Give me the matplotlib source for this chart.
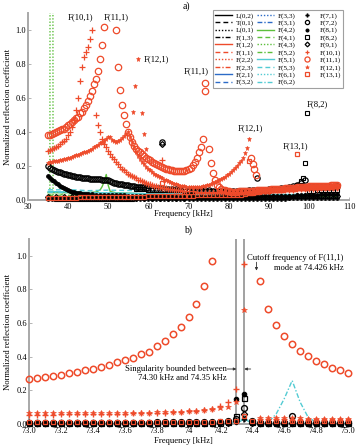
import numpy as np
import matplotlib
matplotlib.use("Agg")
import matplotlib.pyplot as plt

plt.rcParams['font.family'] = ['Liberation Serif', 'DejaVu Serif']

RED = '#ee4b2b'; BLUE = '#2c6bc7'; GREEN = '#5cbf3c'; CYAN = '#52cbd3'
BLK = '#000000'; GRAY = '#a8a8a8'

# ====================== panel a) data ======================
# sampled frequency grids (kHz)
a_x_line = [35.0, 53.0, 71.0, 89.0, 107.0]
a_x_1k = np.arange(35.0, 107.01, 1.0)

# near-zero modes (lines)
a_L02 = [0.004, 0.003, 0.003, 0.004, 0.005]
a_T01 = [0.003, 0.003, 0.002, 0.003, 0.004]
a_L01 = [0.002, 0.002, 0.002, 0.003, 0.003]
a_F13 = [0.004, 0.004, 0.004, 0.005, 0.005]
a_F12 = [0.008, 0.007, 0.007, 0.008, 0.009]
a_F11 = [0.006, 0.006, 0.006, 0.007, 0.007]
a_F22 = [0.005, 0.005, 0.005, 0.006, 0.006]
a_F23 = [0.007, 0.006, 0.006, 0.007, 0.008]
a_F21 = [0.003, 0.003, 0.003, 0.003, 0.004]
a_F32 = [0.002, 0.002, 0.002, 0.003, 0.003]
a_F33 = [0.003, 0.003, 0.003, 0.003, 0.003]
a_F31 = [0.002, 0.002, 0.002, 0.002, 0.003]
a_F42_x = [35, 40, 45, 47, 48, 48.5, 49, 49.5, 50, 50.5, 52, 55, 60, 70, 80, 90, 100, 107]
a_F42 = [0.043, 0.043, 0.044, 0.047, 0.06, 0.08, 0.11, 0.15, 0.085, 0.05, 0.042, 0.04,
         0.035, 0.03, 0.028, 0.027, 0.027, 0.028]
a_F41 = [0.02, 0.018, 0.016, 0.016, 0.018]
a_F43_x = [35.0, 35.45, 35.5, 36.2, 36.25, 40.0, 70.0, 107.0]
a_F43 = [0.0, 0.0, 1.5, 1.5, 0.0, 0.0, 0.0, 0.0]
a_F52_x = [35.0, 38.0, 38.6, 39.2, 45.0, 60.0, 80.0, 107.0]
a_F52 = [0.028, 0.028, 0.034, 0.028, 0.026, 0.022, 0.02, 0.02]
a_F51 = [0.05, 0.04, 0.032, 0.03, 0.03]
a_F53_x = [35.0, 41.0, 45.0, 50.0, 57.0, 65.0, 80.0, 107.0]
a_F53 = [0.06, 0.06, 0.055, 0.058, 0.055, 0.04, 0.035, 0.03]
a_F61 = [0.012, 0.011, 0.011, 0.012, 0.013]
a_F62 = [0.045, 0.04, 0.035, 0.033, 0.032]

# F(7,1) black plus, 1 kHz grid
a_F71 = [0.005, 0.005, 0.005, 0.005, 0.005, 0.005, 0.005, 0.005, 0.005, 0.005,
         0.005, 0.005, 0.005, 0.005, 0.005, 0.006, 0.006, 0.006, 0.006, 0.006,
         0.006, 0.006, 0.006, 0.006, 0.006, 0.006, 0.006, 0.006, 0.006, 0.006,
         0.006, 0.006, 0.006, 0.006, 0.006, 0.007, 0.007, 0.007, 0.007, 0.007,
         0.007, 0.007, 0.007, 0.007, 0.007, 0.007, 0.007, 0.007, 0.007, 0.007,
         0.008, 0.008, 0.008, 0.008, 0.008, 0.008, 0.008, 0.008, 0.008, 0.008,
         0.009, 0.009, 0.009, 0.009, 0.009, 0.009, 0.009, 0.009, 0.009, 0.009,
         0.010, 0.010, 0.010]

# F(7,2) black circles
a_F72_x1 = np.arange(35.0, 60.01, 0.5)
a_F72_y1 = [0.200, 0.190, 0.183, 0.177, 0.172, 0.167, 0.163, 0.159, 0.155, 0.151,
            0.148, 0.145, 0.142, 0.139, 0.137, 0.135, 0.133, 0.131, 0.129, 0.128,
            0.127, 0.126, 0.125, 0.124, 0.123, 0.122, 0.121, 0.120, 0.120, 0.119,
            0.118, 0.112, 0.106, 0.102, 0.099, 0.096, 0.094, 0.092, 0.090, 0.088,
            0.086, 0.084, 0.082, 0.080, 0.079, 0.078, 0.076, 0.075, 0.074, 0.073,
            0.072]
a_F72_x2 = np.arange(61.0, 107.01, 1.0)
a_F72_y2 = [0.070, 0.069, 0.068, 0.067, 0.066, 0.065, 0.064, 0.063, 0.062, 0.061,
            0.060, 0.059, 0.058, 0.057, 0.056, 0.055, 0.054, 0.054, 0.053, 0.053,
            0.053, 0.054, 0.054, 0.055, 0.056, 0.057, 0.058, 0.059, 0.060, 0.062,
            0.064, 0.066, 0.068, 0.071, 0.075, 0.082, 0.090, 0.100, 0.120, 0.075,
            0.074, 0.075, 0.076, 0.077, 0.078, 0.079, 0.080]
a_F72_x3 = [63.3, 87.0]
a_F72_y3 = [0.34, 0.128]

# F(8,1) black dots
a_F81_x1 = np.arange(35.0, 45.01, 0.5)
a_F81_y1 = [0.140, 0.130, 0.120, 0.110, 0.100, 0.092, 0.085, 0.078, 0.072, 0.066,
            0.060, 0.055, 0.050, 0.047, 0.044, 0.042, 0.040, 0.038, 0.036, 0.035,
            0.034]
a_F81_x2 = np.arange(46.0, 107.01, 1.0)
a_F81_y2 = [0.033, 0.032, 0.031, 0.030, 0.029, 0.028, 0.028, 0.027, 0.027, 0.026,
            0.026, 0.025, 0.025, 0.024, 0.024, 0.023, 0.023, 0.022, 0.022, 0.021,
            0.021, 0.020, 0.020, 0.020, 0.019, 0.019, 0.019, 0.018, 0.018, 0.018,
            0.018, 0.018, 0.018, 0.018, 0.018, 0.018, 0.019, 0.019, 0.019, 0.020,
            0.020, 0.020, 0.021, 0.021, 0.022, 0.022, 0.023, 0.023, 0.024, 0.025,
            0.026, 0.027, 0.028, 0.030, 0.030, 0.031, 0.032, 0.033, 0.034, 0.035,
            0.036, 0.037]

# F(8,2) black squares
a_F82_x1 = np.arange(35.0, 56.01, 1.0)
a_F82_y1 = [0.009, 0.009, 0.008, 0.008, 0.008, 0.008, 0.007, 0.007, 0.007, 0.007,
            0.007, 0.007, 0.007, 0.007, 0.007, 0.007, 0.007, 0.007, 0.007, 0.007,
            0.007, 0.007]
a_F82_x2 = np.arange(57.0, 98.01, 1.0)
a_F82_y2 = [0.065, 0.063, 0.062, 0.061, 0.060, 0.059, 0.058, 0.058, 0.057, 0.057,
            0.056, 0.056, 0.055, 0.055, 0.055, 0.054, 0.054, 0.054, 0.054, 0.054,
            0.054, 0.054, 0.054, 0.055, 0.055, 0.055, 0.056, 0.056, 0.057, 0.057,
            0.058, 0.059, 0.060, 0.061, 0.062, 0.064, 0.066, 0.069, 0.073, 0.078,
            0.090, 0.110]
a_F82_x3 = [98.5, 99.1, 99.5, 100, 101, 102, 103, 104, 105, 106, 107]
a_F82_y3 = [0.13, 0.22, 0.51, 0.055, 0.055, 0.056, 0.056, 0.057, 0.057, 0.058, 0.058]

# F(9,1) black diamonds
a_F91_x = np.arange(35.0, 107.01, 2.0)
a_F91_y = [0.016, 0.016, 0.015, 0.015, 0.015, 0.015, 0.015, 0.015, 0.014, 0.014,
           0.014, 0.014, 0.014, 0.014, 0.014, 0.014, 0.014, 0.014, 0.015, 0.015,
           0.015, 0.015, 0.016, 0.016, 0.017, 0.017, 0.018, 0.018, 0.019, 0.020,
           0.020, 0.021, 0.022, 0.023, 0.024, 0.025, 0.026]
a_F91_xi = [63.4]
a_F91_yi = [0.33]

# F(10,1) red plus
a_F101_x1 = np.arange(35.0, 46.01, 0.5)
a_F101_y1 = [0.29, 0.295, 0.30, 0.305, 0.31, 0.32, 0.33, 0.34, 0.35, 0.36,
             0.38, 0.40, 0.43, 0.47, 0.53, 0.60, 0.70, 0.78, 0.84, 0.87,
             0.90, 0.95, 1.00]
a_F101_x2 = np.arange(47.0, 70.01, 0.5)
a_F101_y2 = [0.50, 0.44, 0.40, 0.36, 0.33, 0.31, 0.29, 0.27, 0.255, 0.24,
             0.225, 0.21, 0.195, 0.185, 0.175, 0.165, 0.155, 0.147, 0.14, 0.133,
             0.127, 0.12, 0.115, 0.11, 0.105, 0.10, 0.096, 0.092, 0.088, 0.085,
             0.082, 0.079, 0.076, 0.073, 0.07, 0.068, 0.066, 0.064, 0.062, 0.06,
             0.058, 0.057, 0.056, 0.055, 0.054, 0.053, 0.052]
a_F101_x3 = np.arange(71.0, 107.01, 1.0)
a_F101_y3 = [0.051, 0.05, 0.05, 0.049, 0.049, 0.048, 0.048, 0.048, 0.048, 0.048,
             0.048, 0.049, 0.049, 0.05, 0.05, 0.051, 0.052, 0.053, 0.054, 0.055,
             0.056, 0.057, 0.058, 0.059, 0.06, 0.061, 0.062, 0.063, 0.064, 0.065,
             0.066, 0.067, 0.068, 0.069, 0.07, 0.07, 0.071]
a_F101_xi = [63.3]
a_F101_yi = [0.235]

# F(11,1) red circles
a_F111_x1 = np.arange(35.0, 49.01, 0.5)
a_F111_y1 = [0.38, 0.385, 0.39, 0.395, 0.40, 0.405, 0.41, 0.415, 0.42, 0.43,
             0.44, 0.45, 0.46, 0.47, 0.48, 0.49, 0.51, 0.52, 0.54, 0.56,
             0.58, 0.61, 0.64, 0.68, 0.71, 0.76, 0.83, 0.91, 1.02]
a_F111_x2 = np.arange(52.0, 74.01, 0.5)
a_F111_y2 = [1.00, 0.78, 0.65, 0.56, 0.50, 0.45, 0.40, 0.37, 0.34, 0.32,
             0.30, 0.29, 0.28, 0.27, 0.26, 0.25, 0.24, 0.235, 0.225, 0.22,
             0.21, 0.205, 0.20, 0.195, 0.19, 0.185, 0.18, 0.178, 0.175, 0.172,
             0.17, 0.17, 0.17, 0.17, 0.172, 0.175, 0.18, 0.19, 0.205, 0.225,
             0.25, 0.28, 0.31, 0.36, 0.64]
a_F111_x3 = np.arange(75.0, 107.01, 0.5)
a_F111_y3 = [0.30, 0.22, 0.16, 0.12, 0.09, 0.075, 0.066, 0.06, 0.056, 0.053,
             0.051, 0.05, 0.05, 0.05, 0.05, 0.051, 0.051, 0.052, 0.052, 0.053,
             0.053, 0.054, 0.055, 0.055, 0.056, 0.057, 0.058, 0.058, 0.059, 0.06,
             0.061, 0.062, 0.063, 0.063, 0.064, 0.065, 0.066, 0.067, 0.068, 0.069,
             0.07, 0.071, 0.072, 0.073, 0.074, 0.075, 0.076, 0.077, 0.078, 0.079,
             0.08, 0.081, 0.082, 0.082, 0.083, 0.083, 0.084, 0.084, 0.085, 0.085,
             0.085, 0.086, 0.086, 0.086, 0.086]
a_F111_xi = [74.2, 85.6, 86.0, 86.4, 86.8]
a_F111_yi = [0.69, 0.25, 0.21, 0.18, 0.15]

# F(12,1) red asterisks
a_F121_x1 = np.arange(35.0, 85.01, 0.5)
a_F121_y1 = [0.22, 0.222, 0.225, 0.227, 0.23, 0.232, 0.235, 0.238, 0.24, 0.243,
             0.246, 0.25, 0.254, 0.258, 0.262, 0.266, 0.27, 0.275, 0.28, 0.285,
             0.29, 0.296, 0.302, 0.31, 0.317, 0.325, 0.333, 0.342, 0.35, 0.36,
             0.368, 0.37, 0.355, 0.345, 0.342, 0.345, 0.352, 0.362, 0.375, 0.39,
             0.40, 0.37, 0.34, 0.31, 0.285, 0.26, 0.24, 0.225, 0.21, 0.197,
             0.185, 0.175, 0.165, 0.155, 0.147, 0.14, 0.133, 0.127, 0.12, 0.115,
             0.11, 0.105, 0.10, 0.096, 0.092, 0.088, 0.085, 0.082, 0.08, 0.078,
             0.076, 0.075, 0.074, 0.074, 0.075, 0.076, 0.078, 0.08, 0.083, 0.087,
             0.09, 0.095, 0.10, 0.105, 0.11, 0.116, 0.122, 0.13, 0.138, 0.146,
             0.155, 0.165, 0.176, 0.188, 0.20, 0.215, 0.23, 0.25, 0.275, 0.305,
             0.36]
a_F121_x2 = np.arange(86.0, 107.01, 1.0)
a_F121_y2 = [0.065, 0.064, 0.064, 0.064, 0.065, 0.065, 0.066, 0.066, 0.067, 0.067,
             0.068, 0.068, 0.069, 0.069, 0.07, 0.07, 0.071, 0.071, 0.072, 0.072,
             0.073, 0.073]
a_F121_xi = [56.2, 56.6, 57.3, 58.3, 58.8, 59.3]
a_F121_yi = [0.52, 0.67, 0.83, 0.51, 0.39, 0.30]

# F(13,1) red squares
a_F131_x1 = np.arange(35.0, 84.01, 1.0)
a_F131_y1 = [0.012, 0.012, 0.013, 0.013, 0.013, 0.014, 0.014, 0.014, 0.015, 0.015,
             0.015, 0.016, 0.016, 0.016, 0.017, 0.017, 0.017, 0.018, 0.018, 0.018,
             0.019, 0.019, 0.02, 0.02, 0.02, 0.021, 0.021, 0.022, 0.022, 0.023,
             0.023, 0.024, 0.024, 0.025, 0.025, 0.026, 0.026, 0.027, 0.027, 0.028,
             0.028, 0.029, 0.029, 0.03, 0.03, 0.031, 0.031, 0.032, 0.032, 0.033]
a_F131_x2 = np.arange(85.0, 107.01, 0.5)
a_F131_y2 = [0.04, 0.042, 0.044, 0.046, 0.048, 0.05, 0.051, 0.052, 0.053, 0.054,
             0.055, 0.056, 0.057, 0.058, 0.059, 0.06, 0.061, 0.062, 0.063, 0.064,
             0.065, 0.066, 0.067, 0.068, 0.069, 0.07, 0.071, 0.072, 0.072, 0.073,
             0.074, 0.074, 0.075, 0.075, 0.076, 0.076, 0.077, 0.077, 0.078, 0.078,
             0.079, 0.079, 0.08, 0.08, 0.08]
a_F131_xi = [63.3, 85.0, 97.0]
a_F131_yi = [0.10, 0.23, 0.27]

# ====================== panel b) data ======================
b_x = np.round(np.arange(73.0, 75.001, 0.05), 2)   # 41 samples
nan = np.nan
b_F111 = [0.266, 0.276, 0.282, 0.288, 0.294, 0.304, 0.312, 0.320, 0.327, 0.339,
          0.351, 0.367, 0.379, 0.395, 0.415, 0.430, 0.464, 0.496, 0.536, 0.579,
          0.639, 0.714, 0.820, 0.970, nan, nan, nan, nan, nan, 0.853,
          0.682, 0.589, 0.526, 0.476, 0.435, 0.407, 0.377, 0.355, 0.335, 0.321,
          0.306]
b_F101 = [0.055, 0.055, 0.056, 0.056, 0.057, 0.057, 0.058, 0.058, 0.059, 0.059,
          0.060, 0.061, 0.062, 0.063, 0.064, 0.065, 0.066, 0.068, 0.070, 0.072,
          0.075, 0.079, 0.084, 0.090, 0.110, 0.130, 0.210, 0.950, nan, 0.030,
          0.028, 0.027, 0.027, 0.026, 0.026, 0.025, 0.025, 0.025, 0.024, 0.024,
          0.024]
b_F121 = [0.063, 0.063, 0.063, 0.063, 0.063, 0.063, 0.063, 0.064, 0.064, 0.064,
          0.065, 0.065, 0.066, 0.066, 0.067, 0.068, 0.069, 0.070, 0.072, 0.074,
          0.076, 0.079, 0.082, 0.087, 0.093, 0.100, 0.130, 0.680, nan, 0.035,
          0.034, 0.034, 0.033, 0.033, 0.033, 0.032, 0.032, 0.032, 0.032, 0.031,
          0.031]
b_F131 = [0.012, 0.012, 0.012, 0.012, 0.012, 0.012, 0.012, 0.012, 0.012, 0.012,
          0.012, 0.012, 0.012, 0.012, 0.012, 0.012, 0.012, 0.013, 0.013, 0.013,
          0.013, 0.013, 0.014, 0.014, 0.015, 0.016, 0.020, 0.045, 0.015, 0.018,
          0.018, 0.018, 0.018, 0.018, 0.018, 0.018, 0.018, 0.018, 0.018, 0.018,
          0.018]
b_F72 = [0.008, 0.008, 0.008, 0.008, 0.008, 0.008, 0.008, 0.008, 0.008, 0.008,
         0.008, 0.008, 0.008, 0.008, 0.008, 0.008, 0.009, 0.009, 0.009, 0.009,
         0.010, 0.010, 0.011, 0.012, 0.013, 0.016, 0.030, 0.093, 0.020, 0.008,
         0.007, 0.007, 0.007, 0.048, 0.007, 0.007, 0.006, 0.006, 0.006, 0.006,
         0.006]
b_F81 = [0.010, 0.010, 0.010, 0.010, 0.010, 0.010, 0.010, 0.010, 0.010, 0.010,
         0.010, 0.010, 0.010, 0.010, 0.010, 0.010, 0.010, 0.010, 0.010, 0.010,
         0.010, 0.011, 0.011, 0.012, 0.014, 0.018, 0.149, 0.179, 0.012, 0.005,
         0.004, 0.004, 0.004, 0.004, 0.004, 0.004, 0.004, 0.004, 0.004, 0.004,
         0.004]
b_F82 = [0.005, 0.005, 0.005, 0.005, 0.005, 0.005, 0.005, 0.005, 0.005, 0.005,
         0.005, 0.005, 0.005, 0.005, 0.005, 0.005, 0.005, 0.005, 0.005, 0.005,
         0.006, 0.006, 0.006, 0.007, 0.008, 0.010, 0.050, 0.153, 0.010, 0.004,
         0.004, 0.004, 0.004, 0.004, 0.004, 0.004, 0.004, 0.004, 0.004, 0.004,
         0.004]
b_F71 = [0.002, 0.002, 0.002, 0.002, 0.002, 0.002, 0.002, 0.002, 0.002, 0.002,
         0.002, 0.002, 0.002, 0.002, 0.002, 0.002, 0.002, 0.002, 0.002, 0.002,
         0.002, 0.002, 0.002, 0.002, 0.003, 0.004, 0.010, 0.030, 0.004, 0.002,
         0.002, 0.002, 0.002, 0.002, 0.002, 0.002, 0.002, 0.002, 0.002, 0.002,
         0.002]
b_F91 = [0.004, 0.004, 0.004, 0.004, 0.004, 0.004, 0.004, 0.004, 0.004, 0.004,
         0.004, 0.004, 0.004, 0.004, 0.004, 0.004, 0.004, 0.004, 0.004, 0.004,
         0.004, 0.004, 0.004, 0.005, 0.005, 0.006, 0.020, 0.060, 0.006, 0.003,
         0.003, 0.003, 0.003, 0.003, 0.003, 0.003, 0.003, 0.003, 0.003, 0.003,
         0.003]
b_F62 = [0.002, 0.002, 0.002, 0.002, 0.002, 0.002, 0.002, 0.002, 0.002, 0.002,
         0.002, 0.002, 0.002, 0.002, 0.002, 0.002, 0.002, 0.002, 0.002, 0.002,
         0.002, 0.002, 0.002, 0.002, 0.002, 0.002, 0.010, 0.035, 0.005, 0.000,
         0.010, 0.060, 0.150, 0.258, 0.130, 0.040, 0.010, 0.003, 0.003, 0.003,
         0.003]
b_F51_x = [73.0, 74.3, 74.35, 74.4, 75.0]
b_F51 = [0.003, 0.003, 0.03, 0.003, 0.003]
b_cut_lines = [74.30, 74.35]
b_cutoff = 74.426

a_xticks = [30, 40, 50, 60, 70, 80, 90, 100, 110]
a_yticks = [0.0, 0.2, 0.4, 0.6, 0.8, 1.0]
b_xticks = [73.0, 73.2, 73.4, 73.6, 73.8, 74.0, 74.2, 74.4, 74.6, 74.8, 75.0]
b_xticklabels = ['73.0', '73.2', '73.4', '73.6', '73.8', '74', '74.2', '74.4', '74.6', '74.8', '75.0']
ylabels_txt = ['0.0', '0.2', '0.4', '0.6', '0.8', '1.0']

# ====================== figure ======================
W, H = 359, 445
fig = plt.figure(figsize=(W / 100, H / 100), dpi=100)
axA = fig.add_axes([28 / W, 245 / H, 321 / W, 187 / H])
axB = fig.add_axes([29 / W, 21 / H, 319 / W, 185 / H])

DASH = (0, (3.5, 2.2))
DOT = (0, (1, 1.3))
DDOT = (0, (3.5, 1.4, 1, 1.4))
FS = 6.2

handles = {}


def line(ax, x, y, color, ls, label=None, lw=1.0):
    h, = ax.plot(x, y, color=color, ls=ls, lw=lw, zorder=2)
    if label:
        handles[label] = h
    return h


def mk(ax, x, y, marker, color, ms, filled=False, label=None, mew=0.8, z=3):
    h, = ax.plot(x, y, ls='none', marker=marker, ms=ms,
                 mfc=color if filled else 'none', mec=color, mew=mew,
                 clip_on=False, zorder=z)
    if label:
        handles[label] = h
    return h


# ---- panel a lines ----
line(axA, a_x_line, a_L02, BLK, '-', 'L(0,2)')
line(axA, a_x_line, a_T01, BLK, DASH, 'T(0,1)')
line(axA, a_x_line, a_L01, BLK, DOT, 'L(0,1)')
line(axA, a_x_line, a_F13, BLK, DDOT, 'F(1,3)')
line(axA, a_x_line, a_F12, RED, '-', 'F(1,2)')
line(axA, a_x_line, a_F11, RED, DASH, 'F(1,1)')
line(axA, a_x_line, a_F22, RED, DOT, 'F(2,2)')
line(axA, a_x_line, a_F23, RED, DDOT, 'F(2,3)')
line(axA, a_x_line, a_F21, BLUE, '-', 'F(2,1)')
line(axA, a_x_line, a_F32, BLUE, DASH, 'F(3,2)')
line(axA, a_x_line, a_F33, BLUE, DOT, 'F(3,3)')
line(axA, a_x_line, a_F31, BLUE, DDOT, 'F(3,1)')
line(axA, a_F42_x, a_F42, GREEN, '-', 'F(4,2)')
line(axA, a_x_line, a_F41, GREEN, DASH, 'F(4,1)')
line(axA, a_F43_x, a_F43, GREEN, DOT, 'F(4,3)')
line(axA, a_F52_x, a_F52, GREEN, DDOT, 'F(5,2)')
line(axA, a_x_line, a_F51, CYAN, '-', 'F(5,1)')
line(axA, a_F53_x, a_F53, CYAN, DASH, 'F(5,3)')
line(axA, a_x_line, a_F61, CYAN, DOT, 'F(6,1)')
line(axA, a_x_line, a_F62, CYAN, DDOT, 'F(6,2)')

# ---- panel a markers ----
mk(axA, a_x_1k, a_F71, 'P', BLK, 3.2, filled=True, label='F(7,1)', mew=0.3)
mk(axA, np.concatenate([a_F72_x1, a_F72_x2, a_F72_x3]), a_F72_y1 + a_F72_y2 + a_F72_y3,
   'o', BLK, 3.8, label='F(7,2)', mew=0.9)
mk(axA, np.concatenate([a_F81_x1, a_F81_x2]), a_F81_y1 + a_F81_y2, 'o', BLK, 2.6,
   filled=True, label='F(8,1)')
mk(axA, np.concatenate([a_F82_x1, a_F82_x2, a_F82_x3]), a_F82_y1 + a_F82_y2 + a_F82_y3,
   's', BLK, 3.2, label='F(8,2)')
mk(axA, np.concatenate([a_F91_x, a_F91_xi]), a_F91_y + a_F91_yi, 'D', BLK, 3.0,
   label='F(9,1)', mew=0.9)
mk(axA, np.concatenate([a_F101_x1, a_F101_x2, a_F101_x3, a_F101_xi]),
   a_F101_y1 + a_F101_y2 + a_F101_y3 + a_F101_yi, '+', RED, 4.0, label='F(10,1)', mew=0.9, z=4)
mk(axA, np.concatenate([a_F111_x1, a_F111_x2, a_F111_x3, a_F111_xi]),
   a_F111_y1 + a_F111_y2 + a_F111_y3 + a_F111_yi, 'o', RED, 4.6, label='F(11,1)', mew=0.9, z=4)
mk(axA, np.concatenate([a_F121_x1, a_F121_x2, a_F121_xi]),
   a_F121_y1 + a_F121_y2 + a_F121_yi, '*', RED, 3.6, filled=True, label='F(12,1)', mew=0.4, z=4)
mk(axA, np.concatenate([a_F131_x1, a_F131_x2, a_F131_xi]),
   a_F131_y1 + a_F131_y2 + a_F131_yi, 's', RED, 3.4, label='F(13,1)', mew=0.9, z=4)

# ---- panel b ----
line(axB, b_x, b_F62, CYAN, DDOT)
line(axB, b_F51_x, b_F51, CYAN, '-')
mk(axB, b_x, b_F71, 'P', BLK, 3.5, filled=True, mew=0.3)
mk(axB, b_x, b_F72, 'o', BLK, 4.2, mew=1.0)
mk(axB, b_x, b_F81, 'o', BLK, 3.2, filled=True)
mk(axB, b_x, b_F82, 's', BLK, 3.6, mew=0.9)
mk(axB, b_x, b_F91, 'D', BLK, 3.2, mew=0.9)
mk(axB, b_x, b_F131, 's', RED, 3.4, mew=0.9, z=4)
mk(axB, b_x, b_F101, '+', RED, 4.0, mew=1.0, z=4)
mk(axB, b_x, b_F121, '*', RED, 4.2, filled=True, mew=0.4, z=4)
mk(axB, b_x, b_F111, 'o', RED, 4.6, mew=1.1, z=4)
for xv in b_cut_lines:
    axB.axvline(xv, color='#9a9a9a', lw=1.3, zorder=1)

# ---- axes styling ----
for ax in (axA, axB):
    ax.set_ylim(0, 1.1)
    ax.set_yticks(a_yticks)
    ax.set_yticklabels(ylabels_txt)
    for s in ('top', 'right'):
        ax.spines[s].set_visible(False)
    for s in ('left', 'bottom'):
        ax.spines[s].set_color(GRAY)
        ax.spines[s].set_linewidth(1.4)
    ax.tick_params(axis='both', labelsize=6.0, length=2, width=0.6, color=GRAY,
                   direction='in', pad=1.5)
    ax.tick_params(axis='x', pad=2.5)
    ax.set_facecolor('none')

axA.set_xlim(30, 110)
axA.set_xticks(a_xticks)
axB.set_xlim(73.0, 75.0)
axB.set_xticks(b_xticks)
axB.set_xticklabels(b_xticklabels)

# ---- texts panel a ----
axA.text(43.2, 1.078, 'F(10,1)', fontsize=FS, ha='center', va='center')
axA.text(51.9, 1.078, 'F(11,1)', fontsize=FS, ha='center', va='center')
axA.text(58.9, 0.83, 'F(12,1)', fontsize=FS, ha='left', va='center')
axA.text(71.9, 0.755, 'F(11,1)', fontsize=FS, ha='center', va='center')
axA.text(85.4, 0.42, 'F(12,1)', fontsize=FS, ha='center', va='center')
axA.text(102.1, 0.565, 'F(8,2)', fontsize=FS, ha='center', va='center')
axA.text(96.6, 0.318, 'F(13,1)', fontsize=FS, ha='center', va='center')

# ---- texts panel b ----
axB.text(74.367, 0.99, 'Cutoff frequency of F(11,1)', fontsize=FS, ha='left', va='center')
axB.text(74.975, 0.927, 'mode at 74.426 kHz', fontsize=FS, ha='right', va='center')
axB.annotate('', xy=(b_cutoff, 0.912), xytext=(b_cutoff, 0.962),
             arrowprops=dict(arrowstyle='-|>', lw=0.6, color='#333333',
                             mutation_scale=4, shrinkA=0, shrinkB=0))
axB.text(74.24, 0.327, 'Singularity bounded between', fontsize=FS, ha='right', va='center')
axB.text(74.24, 0.272, '74.30 kHz and 74.35 kHz', fontsize=FS, ha='right', va='center')
axB.annotate('', xy=(74.30, 0.327), xytext=(74.243, 0.327),
             arrowprops=dict(arrowstyle='-|>', lw=0.6, color='#333333',
                             mutation_scale=4, shrinkA=0, shrinkB=0))
axB.annotate('', xy=(74.35, 0.327), xytext=(74.39, 0.327),
             arrowprops=dict(arrowstyle='-|>', lw=0.6, color='#333333',
                             mutation_scale=4, shrinkA=0, shrinkB=0))

# ---- figure texts ----
fig.text(186 / W, 1 - 6 / H, 'a)', fontsize=7, ha='center', va='center')
fig.text(188 / W, 1 - 230 / H, 'b)', fontsize=7, ha='center', va='center')
fig.text(183 / W, 1 - 214 / H, 'Frequency [kHz]', fontsize=FS, ha='center', va='center')
fig.text(183 / W, 1 - 441 / H, 'Frequency [kHz]', fontsize=FS, ha='center', va='center')
fig.text(8 / W, 1 - 107 / H, 'Normalized reflection coefficient', fontsize=FS,
         rotation=90, ha='center', va='center')
fig.text(8 / W, 1 - 332 / H, 'Normalized reflection coefficient', fontsize=FS,
         rotation=90, ha='center', va='center')

# ---- legend ----
order = ['L(0,2)', 'T(0,1)', 'L(0,1)', 'F(1,3)', 'F(1,2)', 'F(1,1)', 'F(2,2)', 'F(2,3)',
         'F(2,1)', 'F(3,2)', 'F(3,3)', 'F(3,1)', 'F(4,2)', 'F(4,1)', 'F(4,3)', 'F(5,2)',
         'F(5,1)', 'F(5,3)', 'F(6,1)', 'F(6,2)', 'F(7,1)', 'F(7,2)', 'F(8,1)', 'F(8,2)',
         'F(9,1)', 'F(10,1)', 'F(11,1)', 'F(12,1)', 'F(13,1)']
leg = axA.legend([handles[k] for k in order], order, ncol=3, fontsize=5.2,
                 loc='upper right', bbox_to_anchor=(343 / W, 1 - 10 / H),
                 bbox_transform=fig.transFigure, frameon=True, fancybox=False,
                 labelspacing=0.14, handlelength=2.3, handletextpad=0.5,
                 columnspacing=0.5, borderpad=0.3, borderaxespad=0, numpoints=1,
                 markerscale=0.8)
leg.get_frame().set_edgecolor('#888888')
leg.get_frame().set_linewidth(0.8)
leg.set_zorder(10)

fig.savefig('out.png', dpi=100)
